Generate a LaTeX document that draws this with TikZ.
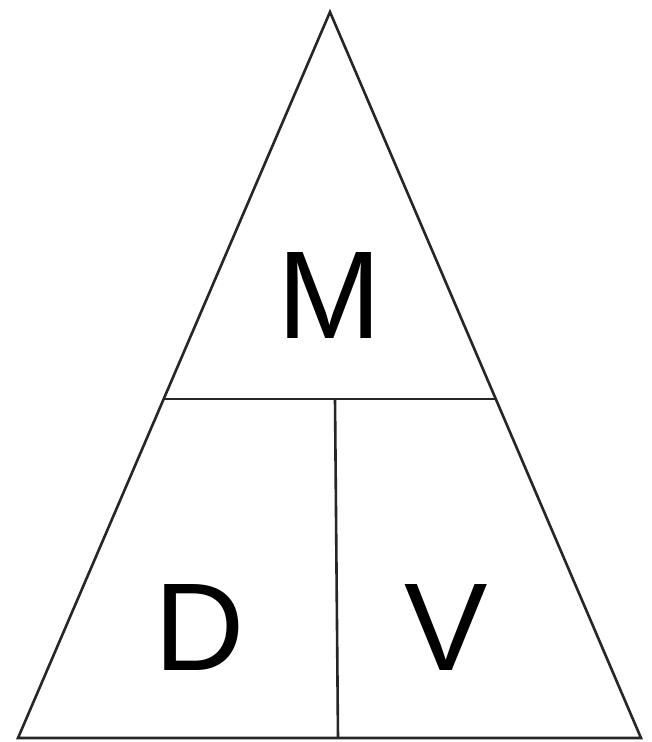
\documentclass[tikz,border=0pt]{standalone}
\usepackage{fontspec}
\setmainfont{Liberation Sans}
\begin{document}
\begin{tikzpicture}[x=1pt,y=-1pt,
  edge/.style={draw=black!85,line width=2.6pt,line join=miter},
  letter/.style={inner sep=0pt,font=\fontsize{125}{125}\selectfont}]
\useasboundingbox[fill=white] (0,0) rectangle (651,742);
\coordinate (apex) at (330,12);
\coordinate (bl) at (18,738);
\coordinate (br) at (641,738);
\coordinate (hl) at (165,399);
\coordinate (hr) at (496,399);
\coordinate (vt) at (335,399);
\coordinate (vb) at (338,738);
\draw[edge] (apex) -- (bl) -- (br) -- cycle;
\draw[edge] (hl) -- (hr);
\draw[edge] (vt) -- (vb);
\node[letter] (m) at (330,295) {M};
\node[letter] (d) at (200,627) {D};
\node[letter] (v) at (446,627) {V};
\end{tikzpicture}
\end{document}
